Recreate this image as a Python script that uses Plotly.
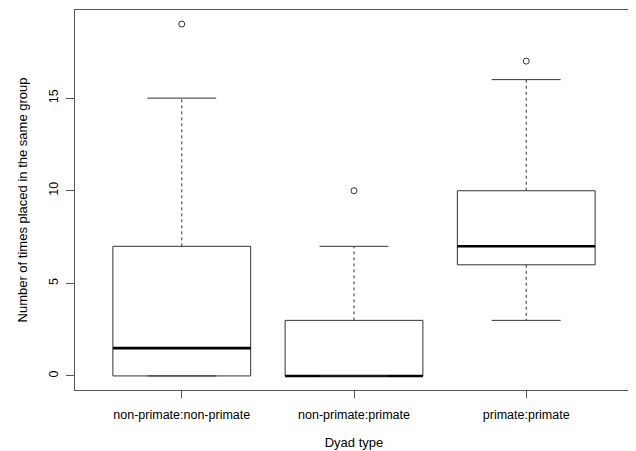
import plotly.graph_objects as go

categories = ["non-primate:non-primate", "non-primate:primate", "primate:primate"]
lower_whisker = [0, 0, 3]
q1 = [0, 0, 6]
median = [1.5, 0, 7]
q3 = [7, 3, 10]
upper_whisker = [15, 7, 16]
outliers = [[19], [10], [17]]

y_ticks = [0, 5, 10, 15]

fig = go.Figure()
hw = 0.4   # half box width
cw = 0.2   # half cap width
line_col = "#333333"

for i, cat in enumerate(categories):
    x = i + 1
    # box
    fig.add_trace(go.Scatter(
        x=[x - hw, x + hw, x + hw, x - hw, x - hw],
        y=[q1[i], q1[i], q3[i], q3[i], q1[i]],
        mode="lines", line=dict(color=line_col, width=1), hoverinfo="skip"))
    # median
    fig.add_trace(go.Scatter(
        x=[x - hw, x + hw], y=[median[i], median[i]],
        mode="lines", line=dict(color="black", width=2.6), hoverinfo="skip"))
    # whiskers (dashed)
    fig.add_trace(go.Scatter(
        x=[x, x, None, x, x],
        y=[q3[i], upper_whisker[i], None, q1[i], lower_whisker[i]],
        mode="lines", line=dict(color=line_col, width=1, dash="3px,3px"),
        hoverinfo="skip"))
    # caps
    fig.add_trace(go.Scatter(
        x=[x - cw, x + cw, None, x - cw, x + cw],
        y=[upper_whisker[i], upper_whisker[i], None, lower_whisker[i], lower_whisker[i]],
        mode="lines", line=dict(color=line_col, width=1), hoverinfo="skip"))
    # outliers
    fig.add_trace(go.Scatter(
        x=[x] * len(outliers[i]), y=outliers[i], mode="markers",
        marker=dict(symbol="circle-open", size=6, color=line_col,
                    line=dict(width=1, color=line_col)),
        hoverinfo="skip"))

font = dict(family="Liberation Sans, Arial, Helvetica, sans-serif", size=12.5, color="black")
title_font = dict(family="Liberation Sans, Arial, Helvetica, sans-serif", size=13, color="black")

# page body has an 8px default margin, so the figure is 628x443
fig.update_layout(
    width=628, height=443,
    margin=dict(l=67, r=3, t=2, b=61, autoexpand=False),
    paper_bgcolor="white", plot_bgcolor="white",
    showlegend=False,
    font=font,
    xaxis=dict(
        range=[0.38, 3.62], tickvals=[1, 2, 3], ticktext=categories,
        showgrid=False, zeroline=False, automargin=False,
        showline=True, mirror=True, linecolor="#555555", linewidth=1,
        ticks="outside", ticklen=7, tickcolor="#555555",
        ticklabelstandoff=6,
        title=dict(text="Dyad type", standoff=16, font=title_font),
    ),
    yaxis=dict(
        range=[-0.76, 19.76], tickvals=y_ticks, ticktext=[str(t) for t in y_ticks],
        tickangle=-90,
        showgrid=False, zeroline=False, automargin=False,
        showline=True, mirror=True, linecolor="#555555", linewidth=1,
        ticks="outside", ticklen=8, tickcolor="#555555",
        ticklabelstandoff=3,
        title=dict(text="Number of times placed in the same group", standoff=16, font=title_font),
    ),
)

fig.write_html("out.html")
